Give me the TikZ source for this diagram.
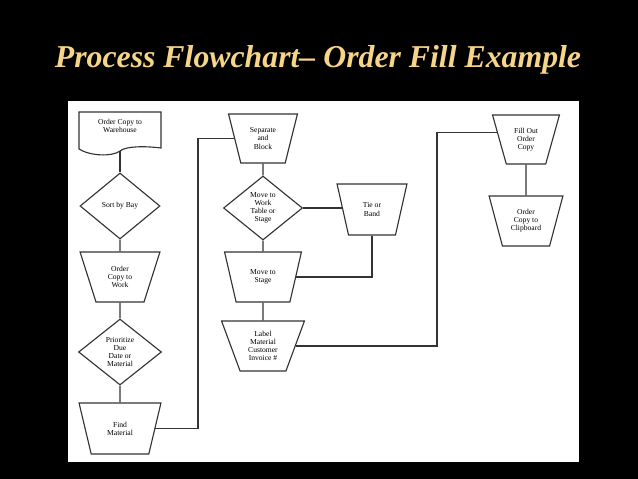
\documentclass[tikz,border=0pt]{standalone}
\usepackage{fontspec}
\setmainfont{Liberation Serif}
\usetikzlibrary{shapes.geometric}
\definecolor{titlegold}{RGB}{246,212,136}
\newcommand{\pxl}{0.025cm}

\begin{document}
\begin{tikzpicture}[
    x=\pxl, y=-\pxl,
    chart/.style={draw=black!80, line width=0.8pt, inner sep=0pt, align=center, font=\fontsize{5.4}{5.8}\selectfont},
    trap/.style n args={3}{chart, trapezium, shape border rotate=180, trapezium stretches=true,
      minimum width=#1*\pxl, minimum height=#2*\pxl, trapezium angle=#3},
    dec/.style 2 args={chart, diamond, minimum width=#1*\pxl, minimum height=#2*\pxl},
    doc/.style={chart, draw=none, minimum width=82*\pxl},
    link/.style={draw=black!80, line width=0.8pt}
  ]
  % Slide and page
  \fill[black] (0,0) rectangle (638,479);
  \fill[white] (68,101) rectangle (579,462);
  \node[font=\fontsize{22.6}{27}\selectfont\bfseries\itshape, text=titlegold, anchor=base] (title) at (318,68) {Process Flowchart– Order Fill Example};

  % Left column
  \node[doc] (oc) at (120,126) {Order Copy to\\Warehouse};
  \draw[link] (79,149) -- (79,112) -- (161,112) -- (161,148)
    .. controls (145,146) and (126,146) .. (120,151)
    .. controls (112,157) and (90,156) .. (79,149);
  \coordinate (ocb) at (120,151);
  \node[dec={80}{66}] (sort) at (120,206) {Sort by Bay};
  \node[trap={80}{50}{69.7}] (ow) at (120,277) {Order\\Copy to\\Work};
  \node[dec={83}{66}] (prio) at (120,352) {Prioritize\\Due\\Date or\\Material};
  \node[trap={82}{51}{68.1}] (fm) at (120,428.5) {Find\\Material};

  % Middle column
  \node[trap={69}{49}{71.4}] (sb) at (263,138.5) {Separate\\and\\Block};
  \node[dec={79}{64}] (mw) at (263,208) {Move to\\Work\\Table or\\Stage};
  \node[trap={70}{51}{71.6}] (tb) at (372,209.5) {Tie or\\Band};
  \node[trap={77}{50}{69.7}] (ms) at (263,277) {Move to\\Stage};
  \node[trap={83}{50}{68.2}] (lm) at (263,346) {Label\\Material\\Customer\\Invoice \#};

  % Right column
  \node[trap={67}{49}{70.3}] (fo) at (526,139.5) {Fill Out\\Order\\Copy};
  \node[trap={74}{50}{69.7}] (cc) at (526,221) {Order\\Copy to\\Clipboard};

  \coordinate (jl) at (198,0);
  \coordinate (jr) at (437,0);

  \draw[link] (ocb) -- (sort.north);
  \draw[link] (sort) -- (ow);
  \draw[link] (ow) -- (prio);
  \draw[link] (prio) -- (fm);
  \draw[link] (fm.east) -- (fm.east -| jl) |- (sb.west);
  \draw[link] (sb) -- (mw);
  \draw[link] (mw.east) -- (mw.east -| tb.west);
  \draw[link] (mw) -- (ms);
  \draw[link] (tb.south) |- (ms.east);
  \draw[link] (ms) -- (lm);
  \draw[link] (lm.east) -- (lm.east -| jr) -- (jr |- fo.166) -- (fo.166);
  \draw[link] (fo) -- (cc);
\end{tikzpicture}
\end{document}
